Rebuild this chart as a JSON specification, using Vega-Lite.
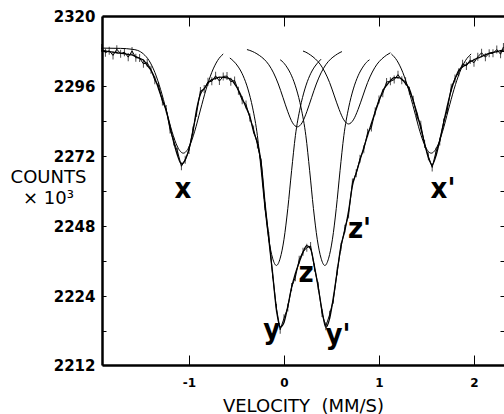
{
  "$schema": "https://vega.github.io/schema/vega-lite/v6.json",
  "width": 402,
  "height": 349,
  "autosize": {"type": "none"},
  "padding": {"left": 102, "top": 16, "right": 0, "bottom": 49},
  "background": "white",
  "view": {"stroke": null},
  "config": {
    "axis": {"grid": false, "domainColor": "black", "domainWidth": 2.5, "tickColor": "black", "tickWidth": 1, "labelColor": "black", "titleColor": "black", "labelFlush": false, "labelOverlap": false}
  },
  "datasets": {
    "spec": [
      {"v":-1.92,"fit":2308.2,"obs":2309.0},{"v":-1.88,"fit":2308.0,"obs":2307.4},{"v":-1.84,"fit":2307.8,"obs":2308.1},{"v":-1.80,"fit":2307.6,"obs":2306.5},{"v":-1.76,"fit":2307.4,"obs":2308.6},{"v":-1.72,"fit":2307.25,"obs":2307.1},{"v":-1.68,"fit":2307.1,"obs":2307.6},{"v":-1.64,"fit":2306.85,"obs":2305.9},{"v":-1.60,"fit":2306.65,"obs":2308.0},{"v":-1.56,"fit":2306.1,"obs":2305.7},{"v":-1.52,"fit":2305.5,"obs":2305.6},{"v":-1.48,"fit":2304.9,"obs":2303.6},{"v":-1.44,"fit":2303.1,"obs":2304.0},{"v":-1.40,"fit":2301.4,"obs":2301.6},{"v":-1.36,"fit":2298.7,"obs":2298.0},{"v":-1.32,"fit":2295.0,"obs":2296.0},{"v":-1.28,"fit":2291.2,"obs":2290.7},{"v":-1.24,"fit":2287.5,"obs":2288.1},{"v":-1.20,"fit":2282.1,"obs":2281.1},{"v":-1.16,"fit":2276.6,"obs":2277.0},{"v":-1.12,"fit":2272.1,"obs":2273.4},{"v":-1.08,"fit":2269.3,"obs":2268.5},{"v":-1.04,"fit":2270.7,"obs":2270.7},{"v":-1.00,"fit":2274.4,"obs":2274.1},{"v":-0.96,"fit":2280.1,"obs":2280.8},{"v":-0.92,"fit":2288.0,"obs":2286.8},{"v":-0.88,"fit":2293.2,"obs":2294.3},{"v":-0.84,"fit":2295.1,"obs":2295.0},{"v":-0.80,"fit":2297.0,"obs":2297.5},{"v":-0.76,"fit":2298.2,"obs":2297.6},{"v":-0.72,"fit":2298.6,"obs":2299.5},{"v":-0.68,"fit":2299.05,"obs":2297.7},{"v":-0.64,"fit":2299.0,"obs":2299.3},{"v":-0.60,"fit":2298.8,"obs":2299.4},{"v":-0.56,"fit":2298.4,"obs":2297.5},{"v":-0.52,"fit":2296.7,"obs":2297.9},{"v":-0.48,"fit":2294.6,"obs":2294.4},{"v":-0.44,"fit":2291.8,"obs":2291.1},{"v":-0.40,"fit":2288.7,"obs":2289.7},{"v":-0.36,"fit":2285.6,"obs":2285.2},{"v":-0.32,"fit":2280.3,"obs":2281.1},{"v":-0.28,"fit":2276.6,"obs":2276.0},{"v":-0.24,"fit":2269.5,"obs":2269.8},{"v":-0.20,"fit":2255.9,"obs":2254.8},{"v":-0.16,"fit":2243.4,"obs":2244.6},{"v":-0.12,"fit":2231.7,"obs":2231.5},{"v":-0.08,"fit":2219.4,"obs":2219.9},{"v":-0.04,"fit":2213.4,"obs":2212.5},{"v":0.00,"fit":2215.0,"obs":2216.4},{"v":0.04,"fit":2220.5,"obs":2220.1},{"v":0.08,"fit":2227.0,"obs":2227.1},{"v":0.12,"fit":2231.8,"obs":2230.5},{"v":0.16,"fit":2235.6,"obs":2236.5},{"v":0.20,"fit":2239.0,"obs":2239.2},{"v":0.24,"fit":2241.3,"obs":2240.6},{"v":0.28,"fit":2240.2,"obs":2241.2},{"v":0.32,"fit":2234.3,"obs":2233.8},{"v":0.36,"fit":2227.0,"obs":2227.6},{"v":0.40,"fit":2219.2,"obs":2218.2},{"v":0.44,"fit":2213.3,"obs":2213.7},{"v":0.48,"fit":2216.3,"obs":2217.6},{"v":0.52,"fit":2223.6,"obs":2222.8},{"v":0.56,"fit":2232.5,"obs":2232.5},{"v":0.60,"fit":2241.2,"obs":2240.9},{"v":0.64,"fit":2246.4,"obs":2247.1},{"v":0.68,"fit":2253.2,"obs":2252.0},{"v":0.72,"fit":2261.8,"obs":2262.9},{"v":0.76,"fit":2266.2,"obs":2266.1},{"v":0.80,"fit":2270.6,"obs":2271.1},{"v":0.84,"fit":2274.9,"obs":2274.3},{"v":0.88,"fit":2279.1,"obs":2280.0},{"v":0.92,"fit":2283.2,"obs":2281.8},{"v":0.96,"fit":2287.1,"obs":2287.4},{"v":1.00,"fit":2290.8,"obs":2291.4},{"v":1.04,"fit":2294.4,"obs":2293.5},{"v":1.08,"fit":2296.2,"obs":2297.4},{"v":1.12,"fit":2297.8,"obs":2297.6},{"v":1.16,"fit":2298.9,"obs":2298.2},{"v":1.20,"fit":2298.9,"obs":2299.9},{"v":1.24,"fit":2298.4,"obs":2298.0},{"v":1.28,"fit":2296.8,"obs":2297.6},{"v":1.32,"fit":2295.0,"obs":2294.4},{"v":1.36,"fit":2291.0,"obs":2291.3},{"v":1.40,"fit":2286.7,"obs":2285.6},{"v":1.44,"fit":2281.5,"obs":2282.7},{"v":1.48,"fit":2276.3,"obs":2276.1},{"v":1.52,"fit":2271.4,"obs":2271.9},{"v":1.56,"fit":2269.0,"obs":2268.1},{"v":1.60,"fit":2272.1,"obs":2273.5},{"v":1.64,"fit":2277.4,"obs":2277.0},{"v":1.68,"fit":2283.4,"obs":2283.5},{"v":1.72,"fit":2289.3,"obs":2288.0},{"v":1.76,"fit":2294.5,"obs":2295.4},{"v":1.80,"fit":2298.4,"obs":2298.6},{"v":1.84,"fit":2301.4,"obs":2300.7},{"v":1.88,"fit":2302.6,"obs":2303.6},{"v":1.92,"fit":2303.4,"obs":2302.9},{"v":1.96,"fit":2304.3,"obs":2304.9},{"v":2.00,"fit":2305.0,"obs":2304.0},{"v":2.04,"fit":2305.6,"obs":2306.0},{"v":2.08,"fit":2306.1,"obs":2307.4},{"v":2.12,"fit":2306.7,"obs":2305.9},{"v":2.16,"fit":2307.2,"obs":2307.2},{"v":2.20,"fit":2307.5,"obs":2307.2},{"v":2.24,"fit":2307.8,"obs":2308.5},{"v":2.28,"fit":2308.1,"obs":2306.9},{"v":2.31,"fit":2308.3,"obs":2309.4}
    ],
    "comp": [
      {"c":"x","v":-1.92,"n":2309.0},{"c":"x","v":-1.72,"n":2308.9},{"c":"x","v":-1.60,"n":2308.6},{"c":"x","v":-1.54,"n":2308.2},{"c":"x","v":-1.48,"n":2307.0},{"c":"x","v":-1.42,"n":2304.7},{"c":"x","v":-1.36,"n":2300.7},{"c":"x","v":-1.30,"n":2294.9},{"c":"x","v":-1.24,"n":2287.8},{"c":"x","v":-1.18,"n":2280.5},{"c":"x","v":-1.12,"n":2275.1},{"c":"x","v":-1.06,"n":2273.0},{"c":"x","v":-1.00,"n":2275.1},{"c":"x","v":-0.94,"n":2280.5},{"c":"x","v":-0.88,"n":2287.8},{"c":"x","v":-0.82,"n":2294.9},{"c":"x","v":-0.76,"n":2300.7},{"c":"x","v":-0.70,"n":2304.7},{"c":"x","v":-0.64,"n":2307.0},
      {"c":"x2","v":1.13,"n":2307.0},{"c":"x2","v":1.19,"n":2304.7},{"c":"x2","v":1.25,"n":2300.7},{"c":"x2","v":1.31,"n":2294.9},{"c":"x2","v":1.37,"n":2287.8},{"c":"x2","v":1.43,"n":2280.5},{"c":"x2","v":1.49,"n":2275.1},{"c":"x2","v":1.55,"n":2273.0},{"c":"x2","v":1.61,"n":2275.1},{"c":"x2","v":1.67,"n":2280.5},{"c":"x2","v":1.73,"n":2287.8},{"c":"x2","v":1.79,"n":2294.9},{"c":"x2","v":1.85,"n":2300.7},{"c":"x2","v":1.91,"n":2304.7},{"c":"x2","v":1.97,"n":2307.0},
      {"c":"y","v":-0.57,"n":2305.6},{"c":"y","v":-0.53,"n":2304.5},{"c":"y","v":-0.48,"n":2302.5},{"c":"y","v":-0.43,"n":2299.5},{"c":"y","v":-0.38,"n":2295.0},{"c":"y","v":-0.33,"n":2288.5},{"c":"y","v":-0.28,"n":2279.0},{"c":"y","v":-0.24,"n":2267.0},{"c":"y","v":-0.20,"n":2254.0},{"c":"y","v":-0.16,"n":2243.5},{"c":"y","v":-0.12,"n":2237.0},{"c":"y","v":-0.08,"n":2234.5},{"c":"y","v":-0.04,"n":2237.0},{"c":"y","v":0.00,"n":2243.5},{"c":"y","v":0.04,"n":2254.0},{"c":"y","v":0.08,"n":2267.0},{"c":"y","v":0.12,"n":2279.0},{"c":"y","v":0.17,"n":2288.5},{"c":"y","v":0.22,"n":2295.0},{"c":"y","v":0.27,"n":2299.5},{"c":"y","v":0.32,"n":2302.5},{"c":"y","v":0.37,"n":2304.5},{"c":"y","v":0.39,"n":2305.2},
      {"c":"y2","v":-0.04,"n":2305.0},{"c":"y2","v":-0.02,"n":2304.5},{"c":"y2","v":0.03,"n":2302.5},{"c":"y2","v":0.08,"n":2299.5},{"c":"y2","v":0.13,"n":2295.0},{"c":"y2","v":0.18,"n":2288.5},{"c":"y2","v":0.23,"n":2279.0},{"c":"y2","v":0.27,"n":2267.0},{"c":"y2","v":0.31,"n":2254.0},{"c":"y2","v":0.35,"n":2243.5},{"c":"y2","v":0.39,"n":2237.0},{"c":"y2","v":0.43,"n":2234.5},{"c":"y2","v":0.47,"n":2237.0},{"c":"y2","v":0.51,"n":2243.5},{"c":"y2","v":0.55,"n":2254.0},{"c":"y2","v":0.59,"n":2267.0},{"c":"y2","v":0.63,"n":2279.0},{"c":"y2","v":0.68,"n":2288.5},{"c":"y2","v":0.73,"n":2295.0},{"c":"y2","v":0.78,"n":2299.5},{"c":"y2","v":0.83,"n":2302.5},{"c":"y2","v":0.88,"n":2304.5},{"c":"y2","v":0.90,"n":2305.0},
      {"c":"z","v":-0.39,"n":2308.5},{"c":"z","v":-0.36,"n":2308.2},{"c":"z","v":-0.31,"n":2307.5},{"c":"z","v":-0.26,"n":2306.5},{"c":"z","v":-0.21,"n":2305.2},{"c":"z","v":-0.16,"n":2303.3},{"c":"z","v":-0.11,"n":2300.5},{"c":"z","v":-0.06,"n":2296.7},{"c":"z","v":-0.01,"n":2292.0},{"c":"z","v":0.04,"n":2287.2},{"c":"z","v":0.09,"n":2283.4},{"c":"z","v":0.14,"n":2282.0},{"c":"z","v":0.19,"n":2283.4},{"c":"z","v":0.24,"n":2287.2},{"c":"z","v":0.29,"n":2292.0},{"c":"z","v":0.34,"n":2296.7},{"c":"z","v":0.39,"n":2300.5},{"c":"z","v":0.44,"n":2303.3},{"c":"z","v":0.49,"n":2305.2},{"c":"z","v":0.54,"n":2306.5},{"c":"z","v":0.59,"n":2307.5},{"c":"z","v":0.61,"n":2307.8},
      {"c":"z2","v":0.20,"n":2308.0},{"c":"z2","v":0.23,"n":2307.6},{"c":"z2","v":0.28,"n":2306.6},{"c":"z2","v":0.33,"n":2305.3},{"c":"z2","v":0.38,"n":2303.5},{"c":"z2","v":0.43,"n":2300.8},{"c":"z2","v":0.48,"n":2297.2},{"c":"z2","v":0.53,"n":2292.6},{"c":"z2","v":0.58,"n":2288.0},{"c":"z2","v":0.63,"n":2284.4},{"c":"z2","v":0.68,"n":2283.0},{"c":"z2","v":0.73,"n":2284.4},{"c":"z2","v":0.78,"n":2288.0},{"c":"z2","v":0.83,"n":2292.6},{"c":"z2","v":0.88,"n":2297.2},{"c":"z2","v":0.93,"n":2300.8},{"c":"z2","v":0.98,"n":2303.5},{"c":"z2","v":1.03,"n":2305.3},{"c":"z2","v":1.08,"n":2306.6},{"c":"z2","v":1.12,"n":2307.4}
    ],
    "labels": [
      {"t":"x","v":-1.063,"n":2257.6},
      {"t":"x'","v":1.674,"n":2257.6},
      {"t":"y","v":-0.13,"n":2209.3},
      {"t":"y'","v":0.568,"n":2207.5},
      {"t":"z","v":0.232,"n":2228.8},
      {"t":"z'","v":0.795,"n":2243.9}
    ]
  },
  "layer": [
    {
      "data": {"name": "spec"},
      "mark": {"type": "line", "color": "black", "strokeWidth": 1.3, "interpolate": "monotone"},
      "encoding": {
        "x": {
          "field": "v", "type": "quantitative",
          "scale": {"domain": [-1.916, 2.316], "nice": false, "zero": false},
          "axis": {
            "orient": "bottom", "values": [-1, 0, 1, 2], "tickSize": -10, "labelPadding": 22,
            "labelExpr": "replace(datum.label, '−', '-')",
            "labelFont": "DejaVu Sans", "labelFontSize": 12, "labelFontWeight": "bold",
            "title": "VELOCITY\u00a0\u00a0(MM/S)", "titleFont": "DejaVu Sans", "titleFontSize": 18, "titleFontWeight": "normal",
            "titleY": 46, "titleBaseline": "alphabetic"
          }
        },
        "y": {
          "field": "fit", "type": "quantitative",
          "scale": {"domain": [2200.4, 2320], "nice": false, "zero": false},
          "axis": {
            "orient": "left",
            "values": [2200.4, 2212, 2224, 2236, 2248, 2260, 2272, 2284, 2296, 2308, 2320],
            "format": "d",
            "labelExpr": "datum.value < 2201 ? '2212' : (datum.value % 24 == 16 ? datum.label : '')",
            "tickSize": -4, "labelPadding": 11,
            "labelFont": "DejaVu Sans", "labelFontSize": 15, "labelFontWeight": "bold",
            "title": ["COUNTS", "× 10³"], "titleAngle": 0, "titleX": -54, "titleY": 166,
            "titleAlign": "center", "titleBaseline": "alphabetic", "titleLineHeight": 21,
            "titleFont": "DejaVu Sans", "titleFontSize": 18, "titleFontWeight": "normal"
          }
        }
      }
    },
    {
      "data": {"name": "spec"},
      "mark": {"type": "line", "color": "black", "strokeWidth": 1},
      "encoding": {
        "x": {"field": "v", "type": "quantitative", "axis": {"orient": "top", "values": [-1, 0, 1, 2], "labels": false, "title": null, "tickSize": -10}},
        "y": {"field": "obs", "type": "quantitative", "axis": {"orient": "right", "values": [2212, 2224, 2236, 2248, 2260, 2272, 2284, 2296, 2308], "labels": false, "domain": false, "title": null, "tickSize": -4}}
      }
    },
    {
      "data": {"name": "spec"},
      "mark": {"type": "tick", "orient": "vertical", "color": "black", "size": 8, "thickness": 1},
      "encoding": {
        "x": {"field": "v", "type": "quantitative", "axis": null},
        "y": {"field": "obs", "type": "quantitative", "axis": null}
      }
    },
    {
      "data": {"name": "comp"},
      "mark": {"type": "line", "color": "black", "strokeWidth": 1, "interpolate": "monotone"},
      "encoding": {
        "detail": {"field": "c"},
        "x": {"field": "v", "type": "quantitative", "axis": null},
        "y": {"field": "n", "type": "quantitative", "axis": null}
      }
    },
    {
      "data": {"name": "labels"},
      "mark": {"type": "text", "font": "Liberation Sans Narrow, DejaVu Sans Condensed, sans-serif", "fontWeight": "bold", "fontSize": 29, "align": "center", "baseline": "alphabetic", "color": "black"},
      "encoding": {
        "text": {"field": "t"},
        "x": {"field": "v", "type": "quantitative", "axis": null},
        "y": {"field": "n", "type": "quantitative", "axis": null}
      }
    }
  ]
}
